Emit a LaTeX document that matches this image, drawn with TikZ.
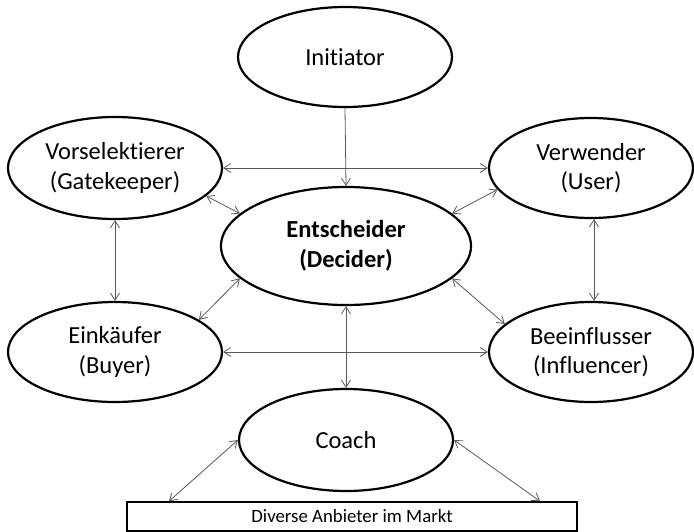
\documentclass[tikz,border=0pt]{standalone}
\usepackage{fontspec}
\setmainfont{Carlito}[Ligatures={NoCommon}]
\usetikzlibrary{shapes.geometric,arrows.meta,calc}

\begin{document}
\begin{tikzpicture}[x=1pt,y=-1pt,
  role/.style={ellipse, draw=black, line width=2.2pt, inner sep=0pt,
    align=center, font=\fontsize{24.5}{29.5}\selectfont},
  link/.style={draw=black!65, line width=0.8pt,
    {Straight Barb[length=7pt,width=9pt,line width=0.8pt]}-{Straight Barb[length=7pt,width=9pt,line width=0.8pt]}},
  onelink/.style={draw=black!65, line width=0.8pt,
    -{Straight Barb[length=7pt,width=9pt,line width=0.8pt]}}]

\useasboundingbox (0,0) rectangle (694,531);

% roles of the buying center
\node[role, minimum width=214pt, minimum height=100pt] (ini) at (345,57) {Initiator};
\node[role, minimum width=214pt, minimum height=102pt] (vor) at (115,168) {Vorselektierer\\(Gatekeeper)};
\node[role, minimum width=204pt, minimum height=100pt] (ver) at (591,168) {Verwender\\(User)};
\node[role, minimum width=250pt, minimum height=118pt, font=\fontsize{24.5}{30}\selectfont\bfseries] (ent) at (346,246) {Entscheider\\(Decider)};
\node[role, minimum width=214pt, minimum height=100pt] (ein) at (115,352) {Einkäufer\\(Buyer)};
\node[role, minimum width=204pt, minimum height=100pt] (bee) at (591,352) {Beeinflusser\\(Influencer)};
\node[role, minimum width=214pt, minimum height=102pt] (coa) at (346,440) {Coach};

% market
\node[draw=black, line width=1.6pt, minimum width=450pt, minimum height=29pt,
  inner sep=0pt, font=\fontsize{18.8}{22}\selectfont] (mkt) at (352,516.5) {Diverse Anbieter im Markt};

% connections
\draw[onelink] (ini.south) -- (ent.north);
\draw[link] (vor.east) -- (ver.west);
\draw[link] (ein.east) -- (bee.west);
\draw[link] (vor.south) -- (ein.north);
\draw[link] ($(ver.south)+(3,0)$) -- ($(bee.north)+(3,0)$);
\draw[link] (vor.-17) -- (ent.163);
\draw[link] (ver.-167) -- (ent.17);
\draw[link] (ein.21) -- (ent.-163);
\draw[link] (bee.162) -- (ent.-17);
\draw[link] (ent.south) -- (coa.north);
\draw[link] (coa.west) -- ($(mkt.north)+(-183,0)$);
\draw[link] (coa.east) -- ($(mkt.north)+(188,0)$);

\end{tikzpicture}
\end{document}
